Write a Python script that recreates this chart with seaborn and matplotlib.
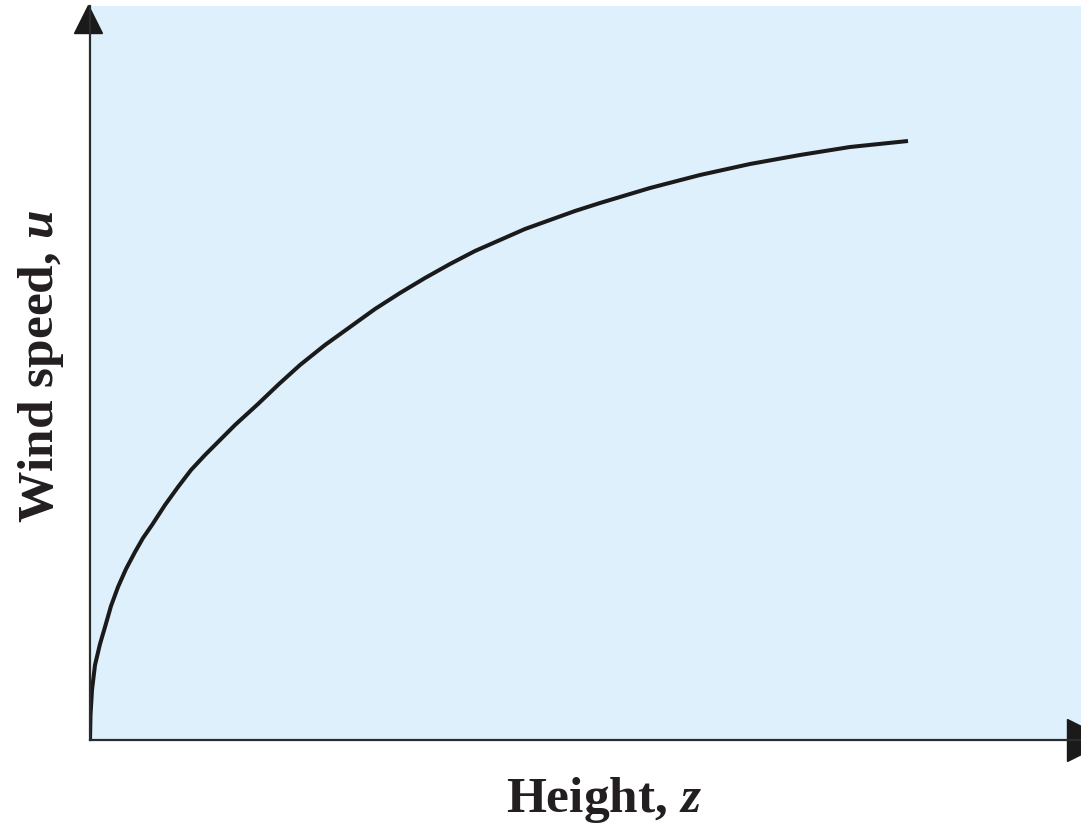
import pandas as pd
import matplotlib
matplotlib.use("Agg")
import matplotlib.pyplot as plt
import seaborn as sns

# wind profile (arbitrary units)
height = [0, 0.5, 2, 5, 10, 15, 21, 28, 36, 45, 53, 62, 75, 88, 101, 115, 130, 145, 168, 189,
          210, 235, 260, 285, 310, 335, 360, 385, 410, 435, 460, 485, 510, 560, 610, 660, 710, 760, 818]
wind_speed = [0, 25, 50, 75, 96, 113, 134, 153, 171, 188, 202, 215, 235, 253, 270, 285, 300, 315, 336, 356,
              375, 395, 413, 431, 447, 462, 476, 489, 500, 511, 520, 529, 537, 552, 565, 576, 585, 593, 599]

x_label = "Height, $z$"
y_label = "Wind speed, $u$"

sns.set_theme(style="white")
plt.rcParams["font.family"] = ["Liberation Serif", "DejaVu Serif"]
plt.rcParams["font.weight"] = "bold"
plt.rcParams["mathtext.fontset"] = "custom"
plt.rcParams["mathtext.rm"] = "Liberation Serif:bold"
plt.rcParams["mathtext.it"] = "Liberation Serif:italic:bold"

df = pd.DataFrame({"height": height, "wind_speed": wind_speed})

fig = plt.figure(figsize=(10.81, 8.26), dpi=100)
ax = fig.add_axes([90 / 1081, 86 / 826, 991 / 1081, 734 / 826])
ax.set_facecolor("#DEF0FC")

sns.lineplot(data=df, x="height", y="wind_speed", ax=ax, color="#1a1a1a",
             linewidth=2.9, sort=False, solid_capstyle="butt", solid_joinstyle="round")

ax.set_xlim(0, 991)
ax.set_ylim(0, 734)
ax.set_xticks([])
ax.set_yticks([])
ax.set_xlabel("")
ax.set_ylabel("")

for side in ["top", "right"]:
    ax.spines[side].set_visible(False)
for side in ["left", "bottom"]:
    ax.spines[side].set_color("#2b2b2b")
    ax.spines[side].set_linewidth(1.6)

# arrow heads on the axes
ax.plot(-2 / 991, (740 - 19) / 734, marker="^", markersize=20, color="#1a1a1a",
        transform=ax.transAxes, clip_on=False)
ax.plot((1088 - 90) / 991, 0, marker=">", markersize=30, color="#1a1a1a",
        transform=ax.transAxes, clip_on=False)

fig.text(604 / 1081, 1 - 812 / 826, x_label, ha="center", va="baseline",
         fontsize=37, fontweight="bold", color="#231f20")
fig.text(53 / 1081, 1 - 367 / 826, y_label, ha="center", va="baseline",
         rotation=90, rotation_mode="anchor",
         fontsize=37, fontweight="bold", color="#231f20")

fig.savefig("out.png", dpi=100)
plt.close(fig)
